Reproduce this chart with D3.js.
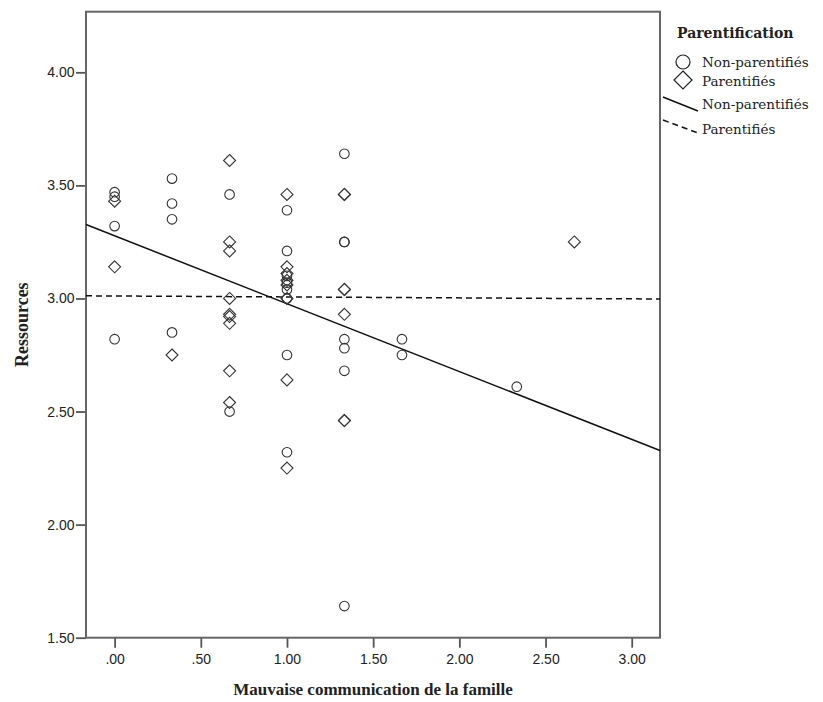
<!DOCTYPE html>
<html>
<head>
<meta charset="utf-8">
<script src="https://cdn.jsdelivr.net/npm/d3@7"></script>
<style>
  body { margin: 0; background: #fff; }
  svg { display: block; }
</style>
</head>
<body>
<div id="chart"></div>
<script>
// values
const xTicks = [0, 0.5, 1, 1.5, 2, 2.5, 3];
const yTicks = [1.5, 2, 2.5, 3, 3.5, 4];

// Non-parentifiés (circles)
const nonParX = [0, 0, 0, 0,
    0.333, 0.333, 0.333, 0.333,
    0.667, 0.667,
    1, 1, 1, 1, 1, 1, 1, 1,
    1.333, 1.333, 1.333, 1.333, 1.333, 1.333, 1.333,
    1.667, 1.667,
    2.333];
const nonParY = [3.47, 3.45, 3.32, 2.82,
    3.53, 3.42, 3.35, 2.85,
    3.46, 2.50,
    3.39, 3.21, 3.10, 3.07, 3.04, 3.00, 2.75, 2.32,
    3.64, 3.25, 3.25, 2.82, 2.78, 2.68, 1.64,
    2.82, 2.75,
    2.61];

// Parentifiés (diamonds)
const parX = [0, 0,
    0.333,
    0.667, 0.667, 0.667, 0.667, 0.667, 0.667, 0.667, 0.667, 0.667,
    1, 1, 1, 1, 1, 1, 1, 1,
    1.333, 1.333, 1.333, 1.333, 1.333, 1.333, 1.333,
    2.667];
const parY = [3.43, 3.14,
    2.75,
    3.61, 3.25, 3.21, 3.00, 2.93, 2.92, 2.89, 2.68, 2.54,
    3.46, 3.14, 3.11, 3.08, 3.06, 3.00, 2.64, 2.25,
    3.46, 3.46, 3.04, 3.04, 2.93, 2.46, 2.46,
    3.25];

// fit lines: intercept and slope
const fitNames = ["Non-parentifiés", "Parentifiés"];
const fitIntercepts = [3.277, 3.011];
const fitSlopes = [-0.30, -0.0042];

const width = 823;
const height = 702;
const plotLeft = 86, plotRight = 660, plotTop = 11.7, plotBottom = 637.7;

const svg = d3.select("#chart").append("svg")
    .attr("width", width)
    .attr("height", height);

const x = d3.scaleLinear().domain([-0.166, 3.164]).range([plotLeft, plotRight]);
const y = d3.scaleLinear().domain([1.5, 4.268]).range([plotBottom, plotTop]);

const fmt = d => d3.format(".2f")(d).replace(/^0\./, ".");

// axes
const xAxis = svg.append("g")
    .attr("transform", `translate(0,${plotBottom})`)
    .call(d3.axisBottom(x).tickValues(xTicks).tickFormat(fmt).tickSize(10).tickPadding(6));
const yAxis = svg.append("g")
    .attr("transform", `translate(${plotLeft},0)`)
    .call(d3.axisLeft(y).tickValues(yTicks).tickFormat(fmt).tickSize(10).tickPadding(1.5));

[xAxis, yAxis].forEach(a => {
    a.select(".domain").remove();
    a.selectAll(".tick line").attr("stroke", "#555").attr("stroke-width", 1.8);
    a.selectAll(".tick text")
        .attr("fill", "#222")
        .style("font-family", "'Liberation Sans', Arial, sans-serif")
        .style("font-size", "14px");
});

// frame
svg.append("rect")
    .attr("x", plotLeft)
    .attr("y", plotTop)
    .attr("width", plotRight - plotLeft)
    .attr("height", plotBottom - plotTop)
    .attr("fill", "none")
    .attr("stroke", "#666")
    .attr("stroke-width", 2);

const plot = svg.append("g");

// fit lines
const xs = x.domain();
fitNames.forEach((name, i) => {
    plot.append("line")
        .attr("x1", x(xs[0]))
        .attr("y1", y(fitIntercepts[i] + fitSlopes[i] * xs[0]))
        .attr("x2", x(xs[1]))
        .attr("y2", y(fitIntercepts[i] + fitSlopes[i] * xs[1]))
        .attr("stroke", "#111")
        .attr("stroke-width", 1.5)
        .attr("stroke-dasharray", i === 1 ? "6,4" : null);
});

// circles
plot.selectAll("circle.np")
    .data(d3.zip(nonParX, nonParY))
    .enter()
    .append("circle")
    .attr("class", "np")
    .attr("cx", d => x(d[0]))
    .attr("cy", d => y(d[1]))
    .attr("r", 4.8)
    .attr("fill", "none")
    .attr("stroke", "#333")
    .attr("stroke-width", 1.1);

// diamonds
const diamond = s => `M0,${-s}L${s},0L0,${s}L${-s},0Z`;
plot.selectAll("path.p")
    .data(d3.zip(parX, parY))
    .enter()
    .append("path")
    .attr("class", "p")
    .attr("d", diamond(6))
    .attr("transform", d => `translate(${x(d[0])},${y(d[1])})`)
    .attr("fill", "none")
    .attr("stroke", "#333")
    .attr("stroke-width", 1.1);

// axis titles
svg.append("text")
    .attr("x", (plotLeft + plotRight) / 2)
    .attr("y", 695)
    .attr("text-anchor", "middle")
    .style("font-family", "'Liberation Serif', 'Times New Roman', serif")
    .style("font-weight", "bold")
    .style("font-size", "17px")
    .attr("fill", "#222")
    .text("Mauvaise communication de la famille");

svg.append("text")
    .attr("transform", `translate(28,${(plotTop + plotBottom) / 2}) rotate(-90)`)
    .attr("text-anchor", "middle")
    .style("font-family", "'Liberation Serif', 'Times New Roman', serif")
    .style("font-weight", "bold")
    .style("font-size", "18px")
    .attr("fill", "#222")
    .text("Ressources");

// legend
const legend = svg.append("g")
    .style("font-family", "'DejaVu Serif', serif")
    .attr("fill", "#222");

legend.append("text")
    .attr("x", 677)
    .attr("y", 38)
    .style("font-weight", "bold")
    .style("font-size", "14px")
    .text("Parentification");

legend.append("circle")
    .attr("cx", 683).attr("cy", 62).attr("r", 7)
    .attr("fill", "none").attr("stroke", "#222").attr("stroke-width", 1.2);
legend.append("path")
    .attr("d", diamond(9))
    .attr("transform", "translate(683,80)")
    .attr("fill", "none").attr("stroke", "#222").attr("stroke-width", 1.2);
legend.append("line")
    .attr("x1", 663).attr("y1", 97).attr("x2", 698).attr("y2", 111)
    .attr("stroke", "#111").attr("stroke-width", 1.5);
legend.append("line")
    .attr("x1", 663).attr("y1", 120).attr("x2", 698).attr("y2", 133)
    .attr("stroke", "#111").attr("stroke-width", 1.5)
    .attr("stroke-dasharray", "6,4");

const legendLabels = ["Non-parentifiés", "Parentifiés", "Non-parentifiés", "Parentifiés"];
const legendY = [62, 81, 104, 129];
legend.selectAll("text.item")
    .data(legendLabels)
    .enter()
    .append("text")
    .attr("class", "item")
    .attr("x", 702)
    .attr("y", (d, i) => legendY[i] + 4.5)
    .style("font-size", "13.5px")
    .text(d => d);
</script>
</body>
</html>
